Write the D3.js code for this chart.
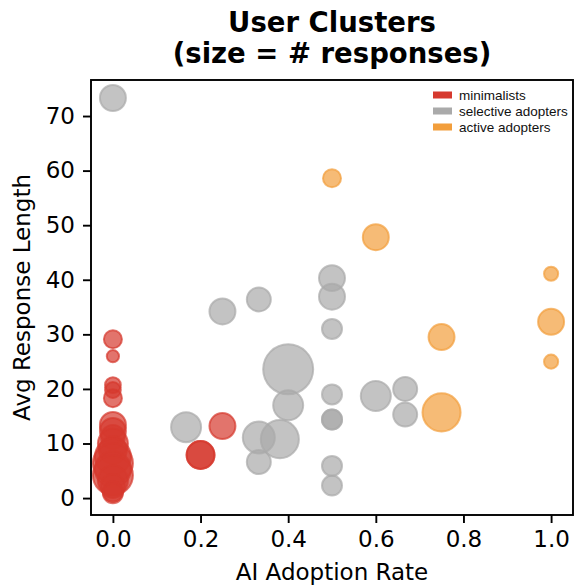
<!DOCTYPE html>
<html>
<head>
<meta charset="utf-8">
<script src="https://cdn.jsdelivr.net/npm/d3@7"></script>
<style>
  html, body { margin: 0; padding: 0; background: #fff; }
  svg { display: block; font-family: "DejaVu Sans", sans-serif; }
</style>
</head>
<body>
<svg id="chart" width="574" height="586"></svg>
<script>
// ---- data ----
const clusterNames = ["minimalists", "selective adopters", "active adopters"];
const clusterColors = ["#d6392e", "#aaaaaa", "#f29e3c"];

const minimalistsX = [0,0,0,0,0,0,0,0,0,0,0,0,0,0,0,0,0,0,0.2,0.2,0.25];
const minimalistsY = [29.1,26.0,20.7,19.8,18.3,13.4,12.3,11.2,10.0,8.8,7.6,6.4,5.3,4.2,3.2,2.2,1.2,0.9,7.9,7.9,13.2];
const minimalistsN = [13,6,10,10,13,27,27,23,36,31,52,64,52,64,36,23,16,16,31,31,27];

const selectiveX = [0,0.167,0.25,0.333,0.333,0.333,0.381,0.4,0.4,0.5,0.5,0.5,0.5,0.5,0.5,0.5,0.5,0.6,0.667,0.667];
const selectiveY = [73.3,13.0,34.2,36.4,11.1,6.6,10.8,23.6,17.0,40.3,36.9,31.0,19.0,14.4,14.4,5.9,2.3,18.7,20.0,15.3];
const selectiveN = [27,36,27,23,41,23,58,100,36,27,27,16,16,16,16,16,16,36,23,23];

const activeX = [0.5,0.6,0.75,0.75,1.0,1.0,1.0];
const activeY = [58.6,47.8,29.5,15.7,41.1,32.3,25.0];
const activeN = [13,27,27,58,8,27,8];

const xTicks = [0.0, 0.2, 0.4, 0.6, 0.8, 1.0];
const yTicks = [0, 10, 20, 30, 40, 50, 60, 70];

// ---- layout ----
const L = 91, R = 573, T = 80, B = 515;
const svg = d3.select("#chart");

const x = d3.scaleLinear().domain([-0.05, 1.05]).range([L, R]);
const y = d3.scaleLinear().domain([-3.1, 76.6]).range([B, T]);
const rScale = d3.scaleSqrt().domain([0, 100]).range([0, 25]);

const series = [
  {name: clusterNames[0], color: clusterColors[0], xs: minimalistsX, ys: minimalistsY, ns: minimalistsN},
  {name: clusterNames[1], color: clusterColors[1], xs: selectiveX, ys: selectiveY, ns: selectiveN},
  {name: clusterNames[2], color: clusterColors[2], xs: activeX, ys: activeY, ns: activeN}
];

// points
series.forEach(s => {
  const pts = s.xs.map((v, i) => ({x: v, y: s.ys[i], n: s.ns[i]}));
  svg.append("g").selectAll("circle").data(pts).join("circle")
    .attr("cx", d => x(d.x))
    .attr("cy", d => y(d.y))
    .attr("r", d => rScale(d.n))
    .attr("fill", s.color)
    .attr("fill-opacity", 0.7)
    .attr("stroke", s.color)
    .attr("stroke-opacity", 0.7)
    .attr("stroke-width", 2);
});

// axes
const xAxis = d3.axisBottom(x).tickValues(xTicks).tickFormat(d3.format(".1f")).tickSizeOuter(0).tickSize(8).tickPadding(8);
const yAxis = d3.axisLeft(y).tickValues(yTicks).tickFormat(d3.format("d")).tickSizeOuter(0).tickSize(8).tickPadding(8);

const gx = svg.append("g").attr("transform", `translate(0,${B})`).call(xAxis);
const gy = svg.append("g").attr("transform", `translate(${L},0)`).call(yAxis);
[gx, gy].forEach(g => {
  g.select(".domain").remove();
  g.selectAll(".tick line").attr("stroke", "#000").attr("stroke-width", 1.9);
  g.selectAll(".tick text").attr("fill", "#000").style("font-size", "23px").style("font-family", "DejaVu Sans");
});

// frame
svg.append("rect").attr("x", L).attr("y", T).attr("width", R - L).attr("height", B - T)
  .attr("fill", "none").attr("stroke", "#000").attr("stroke-width", 1.9);

// labels
svg.append("text").attr("x", (L + R) / 2).attr("y", 580).attr("text-anchor", "middle")
  .style("font-size", "23px").text("AI Adoption Rate");
svg.append("text").attr("transform", `translate(30,${(T + B) / 2}) rotate(-90)`).attr("text-anchor", "middle")
  .style("font-size", "23px").text("Avg Response Length");

// title
svg.append("text").attr("x", (L + R) / 2).attr("y", 32).attr("text-anchor", "middle")
  .style("font-size", "27.5px").style("font-weight", "bold").text("User Clusters");
svg.append("text").attr("x", (L + R) / 2).attr("y", 63).attr("text-anchor", "middle")
  .style("font-size", "27.5px").style("font-weight", "bold").text("(size = # responses)");

// legend
const lg = svg.append("g").attr("transform", "translate(433,95)");
series.forEach((s, i) => {
  lg.append("rect").attr("x", 0).attr("y", i * 16 - 3.5).attr("width", 19).attr("height", 7).attr("fill", s.color);
  lg.append("text").attr("x", 26).attr("y", i * 16 + 4.5)
    .style("font-family", "Liberation Sans, Arial, sans-serif").style("font-size", "13.5px")
    .attr("fill", "#111").text(s.name);
});
</script>
</body>
</html>
